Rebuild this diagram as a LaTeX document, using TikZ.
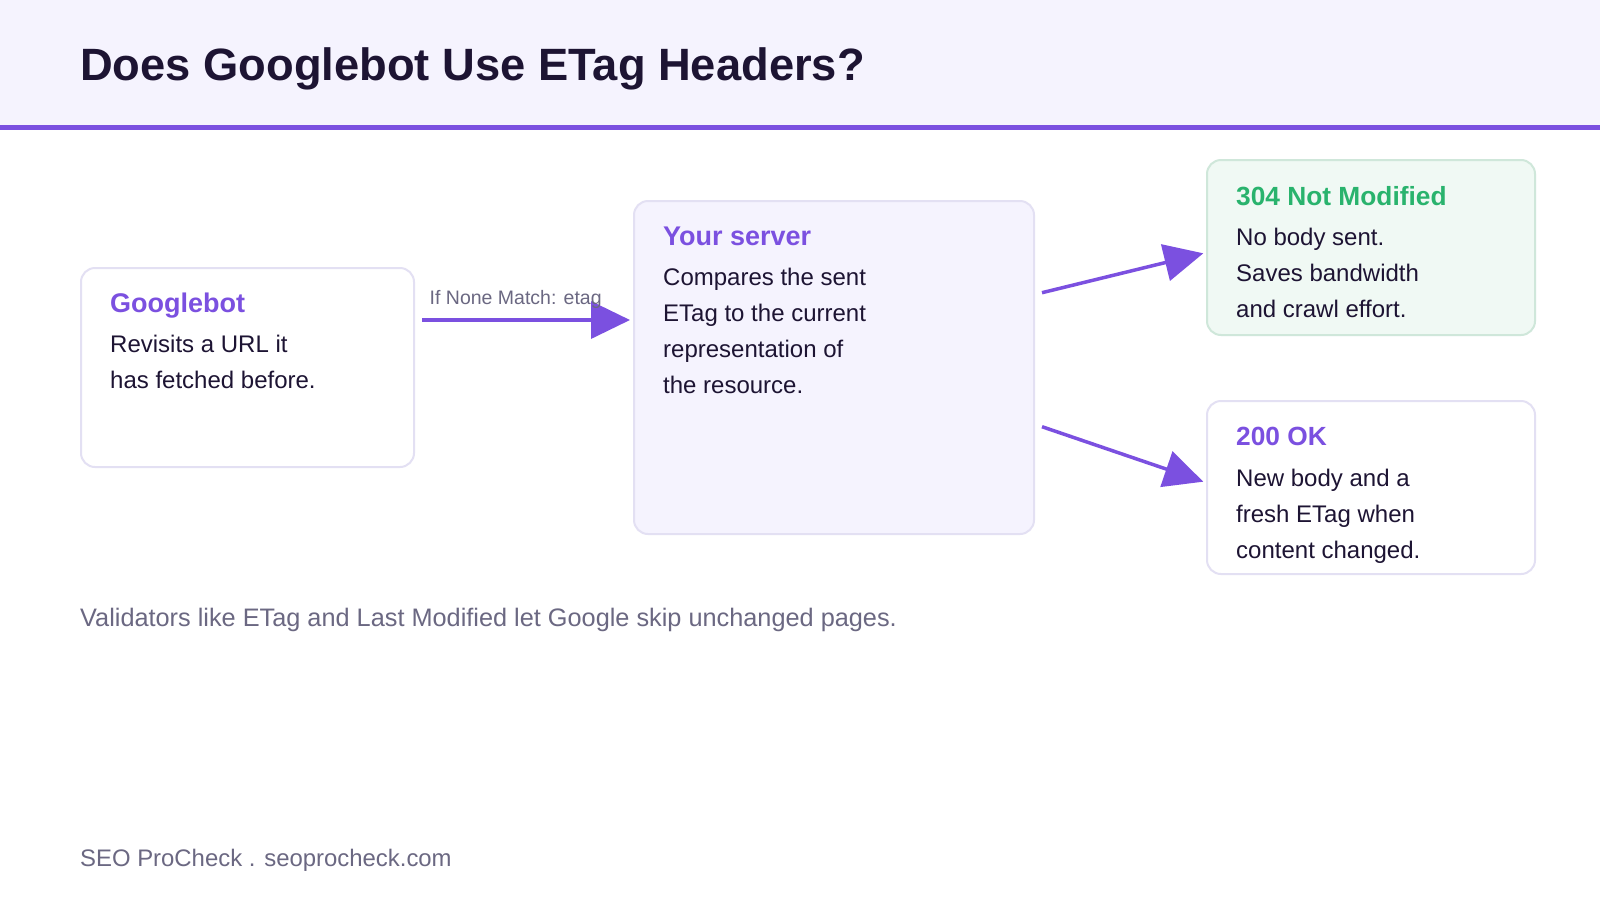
\documentclass[tikz,border=0pt]{standalone}
\usepackage{fontspec}
\setmainfont{Liberation Sans}
\usetikzlibrary{arrows.meta,calc}
\definecolor{hdrbg}{HTML}{F5F3FE}
\definecolor{accent}{HTML}{7B50E0}
\definecolor{ink}{HTML}{1D1433}
\definecolor{muted}{HTML}{6B6882}
\definecolor{edgec}{HTML}{E3E0F3}
\definecolor{srvfill}{HTML}{F5F3FE}
\definecolor{okfill}{HTML}{F0F9F4}
\definecolor{okedge}{HTML}{CFE7DA}
\definecolor{okgreen}{HTML}{29B36D}
\begin{document}
\begin{tikzpicture}[x=1pt,y=-1pt,
  card/.style={draw=edgec, line width=2pt, rounded corners=14pt, fill=white, anchor=north west, inner sep=0pt},
  ttl/.style={anchor=base west, inner sep=0pt, font=\fontsize{27}{30}\selectfont\bfseries},
  bodytext/.style={anchor=base west, inner sep=0pt, text=ink, font=\fontsize{24}{28}\selectfont},
  arr/.style={draw=accent, line width=3.5pt, -{Triangle[length=39pt,width=37pt]}},
  ]
\path[use as bounding box, fill=white] (0,0) rectangle (1600,900);
% header
\fill[hdrbg] (0,0) rectangle (1600,125);
\fill[accent] (0,125) rectangle (1600,130);
\node[anchor=base west, inner sep=0pt, text=ink, font=\fontsize{45.3}{54}\selectfont\bfseries] (title) at (80,80.7) {Does Googlebot Use ETag Headers?};

% boxes
\node[card, minimum width=333pt, minimum height=199pt] (gb) at (80,267) {};
\node[card, fill=srvfill, minimum width=400pt, minimum height=333pt] (srv) at (633,200) {};
\node[card, draw=okedge, fill=okfill, minimum width=328pt, minimum height=175pt] (b304) at (1206,159) {};
\node[card, minimum width=328pt, minimum height=173pt] (b200) at (1206,400) {};

% Googlebot text
\node[ttl, text=accent] (gbT) at ($(gb.north west)+(30,45)$) {Googlebot};
\node[bodytext] (gbL1) at ($(gb.north west)+(30,85.5)$) {Revisits a URL it};
\node[bodytext] (gbL2) at ($(gb.north west)+(30,121.5)$) {has fetched before.};

% server text
\node[ttl, text=accent] (srvT) at ($(srv.north west)+(30,45)$) {Your server};
\node[bodytext] (srvL1) at ($(srv.north west)+(30,85.5)$) {Compares the sent};
\node[bodytext] (srvL2) at ($(srv.north west)+(30,121.5)$) {ETag to the current};
\node[bodytext] (srvL3) at ($(srv.north west)+(30,157.5)$) {representation of};
\node[bodytext] (srvL4) at ($(srv.north west)+(30,193.5)$) {the resource.};

% 304 text
\node[ttl, text=okgreen, font=\fontsize{26.3}{30}\selectfont\bfseries] (okT) at ($(b304.north west)+(30,46)$) {304 Not Modified};
\node[bodytext] (okL1) at ($(b304.north west)+(30,86.5)$) {No body sent.};
\node[bodytext] (okL2) at ($(b304.north west)+(30,122.5)$) {Saves bandwidth};
\node[bodytext] (okL3) at ($(b304.north west)+(30,158.5)$) {and crawl effort.};

% 200 text
\node[ttl, text=accent, font=\fontsize{26.3}{30}\selectfont\bfseries] (newT) at ($(b200.north west)+(30,45.5)$) {200 OK};
\node[bodytext] (newL1) at ($(b200.north west)+(30,86)$) {New body and a};
\node[bodytext] (newL2) at ($(b200.north west)+(30,122)$) {fresh ETag when};
\node[bodytext] (newL3) at ($(b200.north west)+(30,158)$) {content changed.};

% connectors
\draw[arr] ($(gb.north east)+(7,53)$) -- ($(srv.north west)+(-3,120)$);
\node[anchor=base west, inner sep=0pt, text=muted, font=\fontsize{19.5}{22}\selectfont] (lbl) at ($(gb.north east)+(14.5,37)$) {If None Match: etag};
\draw[arr] ($(srv.north east)+(7,92.7)$) -- ($(b304.west)+(-2.7,5.8)$);
\draw[arr] ($(srv.north east)+(7,226.7)$) -- ($(b200.west)+(-2.7,-5.8)$);

% footer
\node[anchor=base west, inner sep=0pt, text=muted, font=\fontsize{25.3}{30}\selectfont] (note) at (80,626.7) {Validators like ETag and Last Modified let Google skip unchanged pages.};
\node[anchor=base west, inner sep=0pt, text=muted, font=\fontsize{23.9}{28}\selectfont] (brand) at (80,866.5) {SEO ProCheck . seoprocheck.com};
\end{tikzpicture}
\end{document}
